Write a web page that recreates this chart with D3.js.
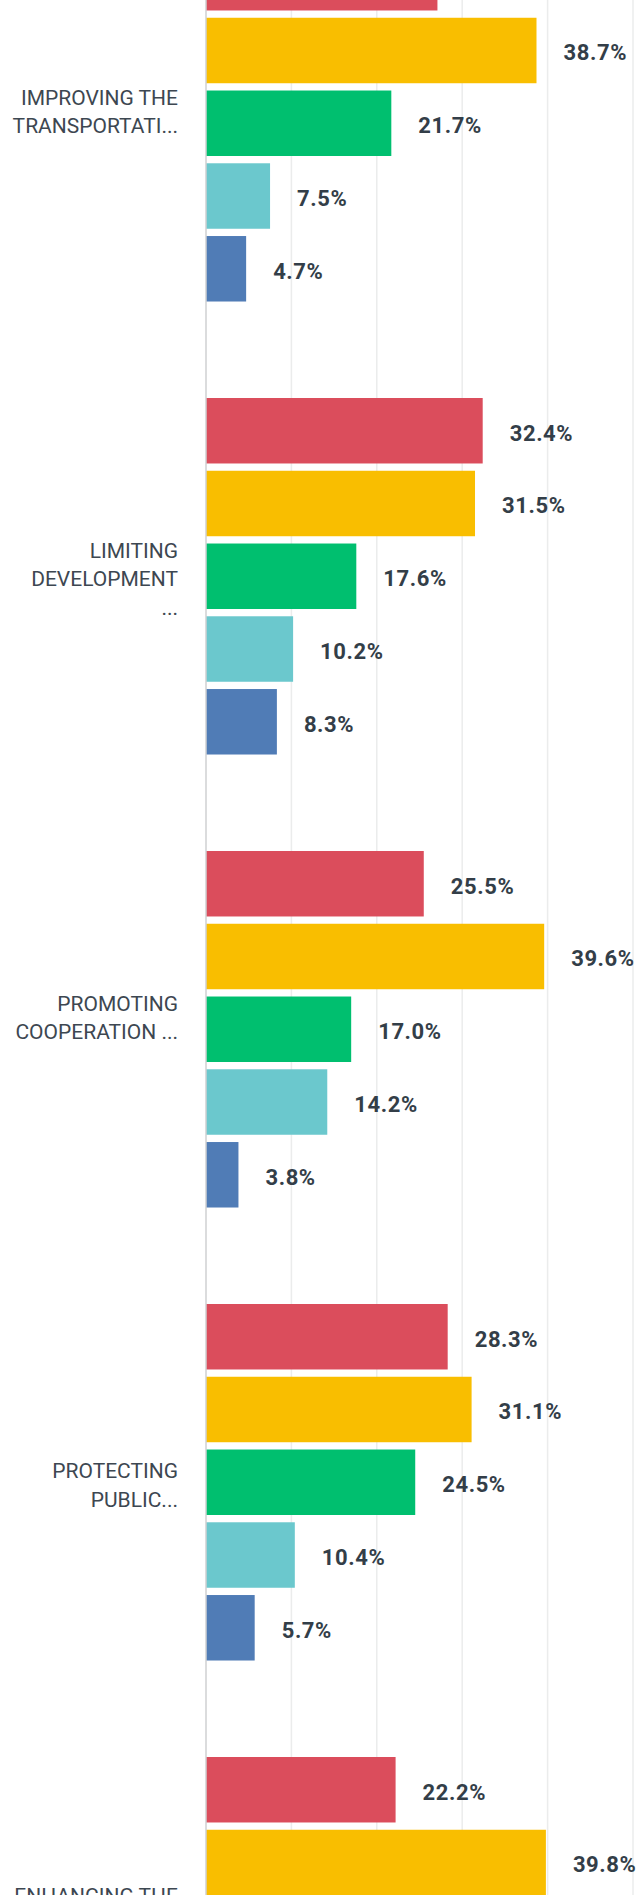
<!DOCTYPE html>
<html>
<head>
<meta charset="utf-8">
<script src="https://cdn.jsdelivr.net/npm/d3@7"></script>
<style>
  body { margin: 0; background: #fff; }
  svg { display: block; }
</style>
</head>
<body>
<div id="chart"></div>
<script>
// categories, wrapped the way the chart wraps them (blank lines still take room)
var categories = ["IMPROVING THE TRANSPORTATION", "LIMITING DEVELOPMENT", "PROMOTING COOPERATION", "PROTECTING PUBLIC", "ENHANCING THE"];
var categoryLines = [
  ["IMPROVING THE", "TRANSPORTATI...", ""],
  ["LIMITING", "DEVELOPMENT", "..."],
  ["PROMOTING", "COOPERATION ...", ""],
  ["PROTECTING", "PUBLIC..."],
  ["ENHANCING THE", "", "", ""]
];

var seriesNames = ["1", "2", "3", "4", "5"];
var seriesColors = ["#db4d5c", "#f9be00", "#00bf6f", "#6bc8cd", "#507cb6"];

// percent per series, one value per category (null = below the visible area)
var series1 = [27.1, 32.4, 25.5, 28.3, 22.2];
var series2 = [38.7, 31.5, 39.6, 31.1, 39.8];
var series3 = [21.7, 17.6, 17.0, 24.5, null];
var series4 = [7.5, 10.2, 14.2, 10.4, null];
var series5 = [4.7, 8.3, 3.8, 5.7, null];

var xTicks = [0, 10, 20, 30, 40, 50];

(function () {
  var width = 636, height = 1895;
  var allSeries = [series1, series2, series3, series4, series5];

  var svg = d3.select('#chart')
    .append('svg')
    .attr('width', width)
    .attr('height', height);

  var x = d3.scaleLinear()
    .domain([0, 50])
    .range([206, 633]);

  var groupStep = 453, pad = 0.213, top = -55;
  var y0 = d3.scaleBand()
    .domain(categories)
    .range([top, top + groupStep * (categories.length - pad)])
    .paddingInner(pad)
    .paddingOuter(0);

  var y1 = d3.scaleBand()
    .domain(seriesNames)
    .range([0, y0.bandwidth()])
    .paddingInner(0.1);

  // gridlines
  svg.append('g')
    .selectAll('line')
    .data(xTicks.slice(1))
    .enter().append('line')
    .attr('x1', function (d) { return x(d); })
    .attr('x2', function (d) { return x(d); })
    .attr('y1', 0)
    .attr('y2', height)
    .attr('stroke', '#ebecec')
    .attr('stroke-width', 1.5);

  // rows of bars
  var rows = [];
  categories.forEach(function (c, i) {
    seriesNames.forEach(function (s, j) {
      var v = allSeries[j][i];
      if (v != null) rows.push({ cat: c, ser: s, color: seriesColors[j], value: v });
    });
  });

  svg.append('g')
    .selectAll('rect')
    .data(rows)
    .enter().append('rect')
    .attr('x', x(0))
    .attr('y', function (d) { return y0(d.cat) + y1(d.ser); })
    .attr('width', function (d) { return x(d.value) - x(0); })
    .attr('height', y1.bandwidth())
    .attr('fill', function (d) { return d.color; });

  var fmt = d3.format('.1f');
  svg.append('g')
    .selectAll('text')
    .data(rows)
    .enter().append('text')
    .attr('x', function (d) { return x(d.value) + 27; })
    .attr('y', function (d) { return y0(d.cat) + y1(d.ser) + y1.bandwidth() / 2 + 10; })
    .attr('font-family', 'Roboto, sans-serif')
    .attr('font-size', 22)
    .attr('font-weight', 700)
    .attr('letter-spacing', 0.6)
    .attr('fill', '#333e48')
    .text(function (d) { return fmt(d.value) + '%'; });

  // axis line
  svg.append('line')
    .attr('x1', x(0)).attr('x2', x(0))
    .attr('y1', 0).attr('y2', height)
    .attr('stroke', '#cfd1d2')
    .attr('stroke-width', 1.5);

  // category labels
  var lineH = 28.5;
  var labels = svg.append('g')
    .selectAll('text')
    .data(categories)
    .enter().append('text')
    .attr('text-anchor', 'end')
    .attr('font-family', 'Roboto, sans-serif')
    .attr('font-size', 21)
    .attr('fill', '#3d4751');

  labels.each(function (c, i) {
    var lines = categoryLines[i];
    var mid = y0(c) + y0.bandwidth() / 2;
    d3.select(this).selectAll('tspan')
      .data(lines)
      .enter().append('tspan')
      .attr('x', x(0) - 28)
      .attr('y', function (d, k) { return mid + (k - (lines.length - 1) / 2) * lineH + 10; })
      .text(function (d) { return d; });
  });
})();
</script>
</body>
</html>
